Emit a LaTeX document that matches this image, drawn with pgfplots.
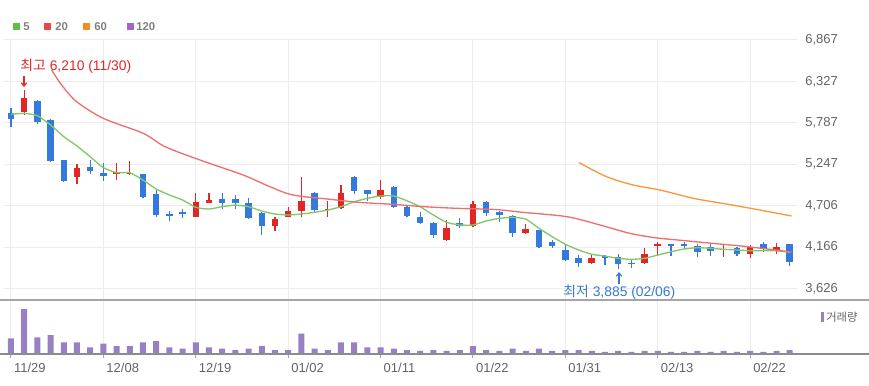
\documentclass[border=0pt]{standalone}
\usepackage{pgfplots}
\pgfplotsset{compat=1.18}
\usepackage{pgfplotstable}
\usepackage{fontspec}
\setmainfont{Liberation Sans}
\newfontfamily\kr{Noto Sans CJK KR}
\usetikzlibrary{arrows.meta}

\definecolor{upc}{RGB}{226,38,38}
\definecolor{dnc}{RGB}{52,122,222}
\definecolor{ma5}{RGB}{128,200,104}
\definecolor{ma20}{RGB}{236,112,112}
\definecolor{ma60}{RGB}{245,152,62}
\definecolor{lg5}{RGB}{96,190,72}
\definecolor{lg20}{RGB}{232,72,72}
\definecolor{lg60}{RGB}{245,140,30}
\definecolor{lg120}{RGB}{160,100,210}
\definecolor{volc}{RGB}{152,128,196}
\definecolor{gridc}{RGB}{236,236,236}
\definecolor{tickc}{RGB}{100,100,100}
\definecolor{linec}{RGB}{165,165,165}
\definecolor{annb}{RGB}{60,120,205}

\pgfplotstableread{
i o h l c
1 5924 6210 5889 6115
5 5077 5250 4993 5202
8 5125 5267 5045 5140
9 5122 5290 5110 5137
14 4563 4868 4555 4758
15 4738 4868 4738 4777
20 4442 4563 4376 4529
21 4563 4693 4555 4641
22 4641 5077 4563 4771
24 4650 4770 4563 4665
25 4672 4976 4660 4876
28 4816 5041 4790 4911
33 4259 4520 4240 4419
35 4442 4767 4430 4724
39 4346 4464 4340 4398
44 3955 4072 3950 4028
48 3955 4150 3950 4072
49 4177 4230 4055 4207
54 4128 4207 4033 4143
56 4072 4194 4020 4172
58 4125 4220 4081 4172
}\up

\pgfplotstableread{
i o h l c
0 5911 5984 5729 5833
2 6072 6085 5768 5802
3 5824 5835 5280 5289
4 5298 5300 5015 5028
6 5215 5302 5116 5159
7 5137 5267 5028 5097
10 5120 5125 4803 4816
11 4859 4907 4555 4585
12 4600 4637 4507 4578
13 4625 4660 4542 4600
16 4794 4868 4659 4738
17 4790 4842 4659 4738
18 4745 4807 4529 4542
19 4615 4620 4324 4442
23 4876 4880 4607 4650
26 5084 5090 4855 4902
27 4911 4915 4768 4855
29 4946 4963 4680 4685
30 4693 4700 4565 4572
31 4563 4628 4465 4477
32 4485 4490 4281 4324
34 4485 4550 4412 4442
36 4758 4765 4576 4607
37 4628 4635 4498 4585
38 4576 4580 4294 4346
40 4389 4395 4150 4172
41 4229 4259 4150 4185
42 4129 4194 3990 3998
43 4020 4063 3911 3955
45 4045 4063 3937 4030
46 4041 4072 3885 3942
47 3962 4011 3898 3947
50 4207 4210 4055 4192
51 4207 4237 4142 4185
52 4177 4207 4033 4107
53 4164 4220 4055 4120
55 4158 4165 4055 4072
57 4207 4230 4098 4138
59 4207 4210 3924 3968
}\down

\pgfplotstableread{
i v
0 15.7
1 45
2 16.7
3 19
4 11.7
5 11.7
6 6.7
7 10.3
8 8
9 8
10 11.7
11 13
12 6.7
13 5.3
14 11.7
15 6.7
16 5.3
17 4
18 5.3
19 8
20 4
21 4
22 20.3
23 5.3
24 4
25 11.7
26 11.7
27 6.7
28 6.7
29 5.3
30 4
31 3
32 4
33 3
34 4
35 8
36 4
37 3
38 5.3
39 3
40 5.3
41 3
42 4
43 4
44 3
45 2
46 3
47 2
48 3
49 3
50 2
51 2
52 3
53 2
54 3
55 2
56 3
57 2
58 3
59 4
}\vol

\begin{document}
\begin{tikzpicture}[x=0.75pt,y=0.75pt]
\path[use as bounding box] (0,0) rectangle (869,386);

% price panel
\begin{axis}[at={(3pt,64.5pt)}, anchor=south west, scale only axis,
  width=594.75pt, height=195pt,
  xmin=-0.53, xmax=59.55, ymin=3477, ymax=6867,
  axis line style={draw=none},
  xtick={0,7,...,56}, xticklabel=\empty,
  major tick length=0pt,
  ytick={3626,4166,4706,5247,5787,6327,6867},
  yticklabels={{3,626},{4,166},{4,706},{5,247},{5,787},{6,327},{6,867}},
  ytick pos=right, yticklabel pos=right,
  yticklabel style={anchor=west, xshift=2.7pt, text=tickc, font=\fontsize{9.75}{11}\selectfont},
  grid=major, major grid style={gridc, line width=0.75pt},
  clip=false]
 % wicks
 \addplot[draw=none, mark=none, error bars/.cd, y dir=both, y explicit, error mark=none,
   error bar style={draw=upc, line width=0.9pt}]
   table[x=i, y expr={(\thisrow{h}+\thisrow{l})/2}, y error expr={(\thisrow{h}-\thisrow{l})/2}] {\up};
 \addplot[draw=none, mark=none, error bars/.cd, y dir=both, y explicit, error mark=none,
   error bar style={draw=dnc, line width=0.9pt}]
   table[x=i, y expr={(\thisrow{h}+\thisrow{l})/2}, y error expr={(\thisrow{h}-\thisrow{l})/2}] {\down};
 % bodies
 \addplot[draw=none, mark=none, error bars/.cd, y dir=both, y explicit, error mark=none,
   error bar style={draw=upc, line width=4.9pt}]
   table[x=i, y expr={(\thisrow{o}+\thisrow{c})/2}, y error expr={abs(\thisrow{o}-\thisrow{c})/2}] {\up};
 \addplot[draw=none, mark=none, error bars/.cd, y dir=both, y explicit, error mark=none,
   error bar style={draw=dnc, line width=4.9pt}]
   table[x=i, y expr={(\thisrow{o}+\thisrow{c})/2}, y error expr={abs(\thisrow{o}-\thisrow{c})/2}] {\down};
 % MA5
 \addplot[ma5, line width=1pt, smooth, tension=0.3] coordinates {
 (0,5898)(1,5911)(2,5880)(3,5759)(4,5606)(5,5485)(6,5345)(7,5202)(8,5137)(9,5137)
 (10,5041)(11,4924)(12,4846)(13,4781)(14,4685)(15,4663)(16,4693)(17,4715)(18,4693)(19,4637)
 (20,4598)(21,4585)(22,4598)(23,4620)(24,4650)(25,4693)(26,4758)(27,4803)(28,4833)(29,4833)
 (30,4771)(31,4693)(32,4585)(33,4490)(34,4455)(35,4455)(36,4507)(37,4542)(38,4555)(39,4533)
 (40,4412)(41,4302)(42,4203)(43,4129)(44,4073)(45,4050)(46,4020)(47,4007)(48,4020)(49,4063)
 (50,4106)(51,4142)(52,4159)(53,4151)(54,4138)(55,4129)(56,4119)(57,4119)(58,4119)(59,4099)};
 % MA20
 \addplot[ma20, line width=1pt, smooth, tension=0.5] coordinates {
 (3.08,6476)(3.84,6280)(4.98,6062)(6.99,5846)(10.02,5650)(11.67,5476)(14.32,5302)
 (17.58,5107)(19.62,4954)(21.36,4846)(24.17,4790)(26.29,4751)(28.86,4725)(31.36,4693)
 (33.86,4672)(36.67,4657)(38.79,4620)(42.12,4563)(44.62,4455)(46.89,4346)(48.79,4289)
 (50.53,4259)(53.11,4216)(55.08,4185)(56.36,4161)(59.14,4103)};
 % MA60
 \addplot[ma60, line width=1pt, smooth, tension=0.5] coordinates {
 (43.05,5267)(45.13,5084)(47.14,4976)(49.17,4911)(51.69,4803)(54.22,4728)(56.74,4650)(59.14,4572)};
\end{axis}

% volume panel
\begin{axis}[at={(3pt,24pt)}, anchor=south west, scale only axis,
  width=594.75pt, height=40.5pt,
  xmin=-0.53, xmax=59.55, ymin=0, ymax=54,
  axis line style={draw=none},
  ytick=\empty,
  xtick={0,7,...,56},
  xticklabels={11/29,12/08,12/19,01/02,01/11,01/22,01/31,02/13,02/22},
  xtick pos=left, tick align=outside, major tick length=3pt,
  xtick style={draw=linec, line width=0.75pt},
  xmajorgrids, major grid style={gridc, line width=0.75pt},
  xticklabel style={anchor=north west, xshift=-1.2pt, text=tickc, font=\fontsize{9.75}{11}\selectfont},
  clip=false]
 \addplot[ybar, bar width=4.5pt, fill=volc, draw=none] table[x=i, y=v] {\vol};
\end{axis}

% separators
\draw[linec, line width=1.3pt] (0,86) -- (869,86);
\draw[linec!85!black, line width=0.9pt] (0,32) -- (869,32);

% legend
\fill[lg5] (13,356) rectangle (20,363);
\node[anchor=west, inner sep=0, text=gray, font=\bfseries\fontsize{8.5}{10}\selectfont] at (23,359.5) {5};
\fill[lg20] (44,356) rectangle (51,363);
\node[anchor=west, inner sep=0, text=gray, font=\bfseries\fontsize{8.5}{10}\selectfont] at (55,359.5) {20};
\fill[lg60] (83,356) rectangle (90,363);
\node[anchor=west, inner sep=0, text=gray, font=\bfseries\fontsize{8.5}{10}\selectfont] at (94,359.5) {60};
\fill[lg120] (127,356) rectangle (134,363);
\node[anchor=west, inner sep=0, text=gray, font=\bfseries\fontsize{8.5}{10}\selectfont] at (136,359.5) {120};

% annotations
\node[anchor=west, inner sep=0, text=upc, font=\fontsize{10.4}{12}\selectfont] at (20,319.5) {{\kr 최고}\hspace{3pt}6,210 (11/30)};
\draw[upc, line width=0.8pt, -{Straight Barb[length=2.5pt,width=4pt]}] (24,310) -- (24,299);
\node[anchor=west, inner sep=0, text=annb, font=\fontsize{10.4}{12}\selectfont] at (563,94) {{\kr 최저}\hspace{3pt}3,885 (02/06)};
\draw[annb, line width=0.8pt, -{Straight Barb[length=2.5pt,width=4pt]}] (619,102) -- (619,114);

% volume legend
\fill[volc] (820.5,64) rectangle (823.5,74);
\node[anchor=west, inner sep=0, text=tickc, font=\kr\fontsize{8.5}{10}\selectfont] at (826,69) {거래량};
\end{tikzpicture}
\end{document}
